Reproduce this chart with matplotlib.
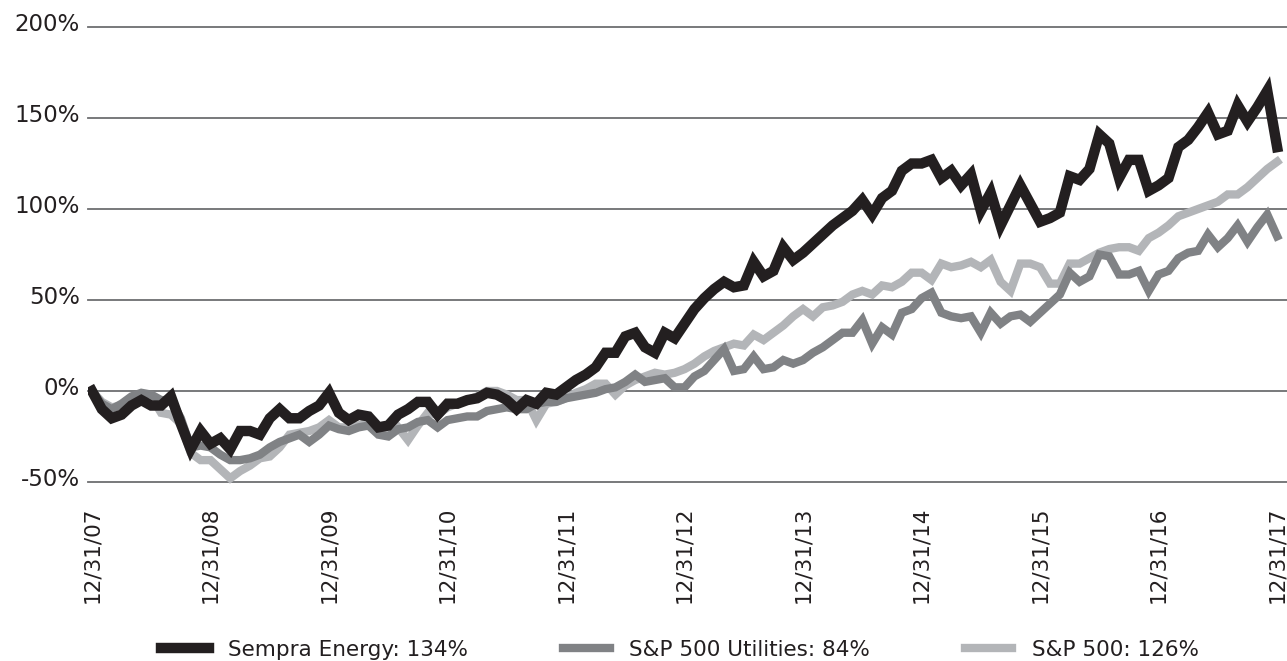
import matplotlib
matplotlib.use("Agg")
import matplotlib.pyplot as plt
import matplotlib.transforms as mtransforms

# monthly cumulative total return (%), 12/31/07 .. 12/31/17
sempra = [0, -10, -15, -13, -8, -5, -8, -8, -3, -18,
          -32, -22, -29, -26, -32, -22, -22, -24, -15, -10,
          -15, -15, -11, -8, -1, -12, -16, -13, -14, -20,
          -19, -13, -10, -6, -6, -13, -7, -7, -5, -4,
          -1, -2, -5, -10, -5, -7, -1, -2, 2, 6,
          9, 13, 21, 21, 30, 32, 24, 21, 32, 29,
          37, 45, 51, 56, 60, 57, 58, 71, 63, 66,
          79, 72, 76, 81, 86, 91, 95, 99, 105, 97,
          106, 110, 121, 125, 125, 127, 117, 121, 113, 119,
          99, 109, 91, 102, 113, 103, 93, 95, 98, 118,
          116, 122, 141, 136, 117, 127, 127, 110, 113, 117,
          134, 138, 145, 153, 141, 143, 157, 148, 156, 165,
          134]
utilities = [0, -7, -10, -7, -3, -1, -2, -5, -5, -15,
             -31, -30, -31, -35, -38, -38, -37, -35, -31, -28,
             -26, -24, -28, -24, -19, -21, -22, -20, -19, -24,
             -25, -21, -20, -17, -16, -20, -16, -15, -14, -14,
             -11, -10, -9, -10, -10, -7, -6, -6, -4, -3,
             -2, -1, 1, 2, 5, 9, 5, 6, 7, 2,
             2, 8, 11, 17, 23, 11, 12, 19, 12, 13,
             17, 15, 17, 21, 24, 28, 32, 32, 39, 26,
             35, 31, 43, 45, 51, 54, 43, 41, 40, 41,
             32, 43, 37, 41, 42, 38, 43, 48, 53, 65,
             60, 63, 75, 74, 64, 64, 66, 55, 64, 66,
             73, 76, 77, 86, 79, 84, 91, 82, 90, 97,
             85]
sp500 = [0, -6, -9, -8, -5, -2, -3, -12, -13, -18,
         -34, -38, -38, -43, -48, -44, -41, -37, -36, -31,
         -24, -23, -22, -20, -16, -20, -20, -19, -17, -23,
         -24, -20, -27, -19, -12, -13, -9, -7, -5, -3,
         0, 0, -2, -5, -5, -16, -7, -6, -4, -1,
         1, 4, 4, -2, 3, 6, 8, 10, 9, 10,
         12, 15, 19, 22, 24, 26, 25, 31, 28, 32,
         36, 41, 45, 41, 46, 47, 49, 53, 55, 53,
         58, 57, 60, 65, 65, 61, 70, 68, 69, 71,
         68, 72, 60, 55, 70, 70, 68, 59, 59, 70,
         70, 73, 76, 78, 79, 79, 77, 84, 87, 91,
         96, 98, 100, 102, 104, 108, 108, 112, 117, 122,
         126]

tick_pos = [0, 12, 24, 36, 48, 60, 72, 84, 96, 108, 120]
tick_labels = ['12/31/07', '12/31/08', '12/31/09', '12/31/10', '12/31/11', '12/31/12',
               '12/31/13', '12/31/14', '12/31/15', '12/31/16', '12/31/17']
y_ticks = [-50, 0, 50, 100, 150, 200]
legend_names = ['Sempra Energy: 134%', 'S&P 500 Utilities: 84%', 'S&P 500: 126%']

plt.rcParams['font.family'] = ['DejaVu Sans']
text_col = '#231f20'

fig = plt.figure(figsize=(12.87, 6.61), dpi=100)
ax = fig.add_axes([88 / 1287, (661 - 485.6) / 661, 1 - 88 / 1287, (485.6 - 23.4) / 661])

months = list(range(len(sempra)))
l3, = ax.plot(months, sp500, color='#b3b5b8', lw=6, solid_joinstyle='miter', zorder=3)
l2, = ax.plot(months, utilities, color='#808285', lw=6, solid_joinstyle='miter', zorder=4)
l1, = ax.plot(months, sempra, color=text_col, lw=7.5, solid_joinstyle='miter', zorder=5)

for v in y_ticks:
    ax.axhline(v, color='#6d6e71', lw=1.3, zorder=1, clip_on=False)

ax.set_xlim(-0.4, 121)
ax.set_ylim(-52, 202)
for s in ax.spines.values():
    s.set_visible(False)

ax.set_yticks(y_ticks)
ax.set_yticklabels([f'{v}%' for v in y_ticks], fontsize=16.5, color=text_col)
ax.tick_params(axis='y', length=0, pad=6)
offset = mtransforms.ScaledTranslation(0, 3.3 / 72, fig.dpi_scale_trans)
for lab in ax.get_yticklabels():
    lab.set_transform(lab.get_transform() + offset)

ax.set_xticks(tick_pos)
ax.set_xticklabels(tick_labels, rotation=90, fontsize=15.5, color=text_col)
ax.tick_params(axis='x', length=0, pad=15)

fig.legend([l1, l2, l3], legend_names, loc='center', bbox_to_anchor=(680 / 1287, 1 - 650 / 661),
           ncol=3, frameon=False, fontsize=15.5, handlelength=2.2, handletextpad=0.9,
           columnspacing=4.4, labelcolor=text_col)

fig.savefig('out.png', dpi=100)
